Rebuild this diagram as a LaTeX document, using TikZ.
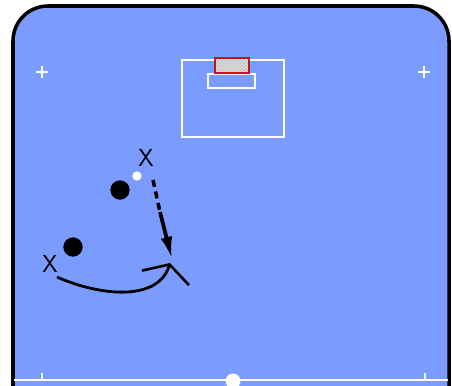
\documentclass[tikz,border=0pt]{standalone}
\usetikzlibrary{arrows.meta,patterns}
\definecolor{pitch}{RGB}{123,155,255}
\definecolor{goalred}{RGB}{196,22,22}
\begin{document}
\begin{tikzpicture}[x=0.03cm,y=-0.03cm,
  fieldline/.style={white, line width=2.3pt},
  player/.style={circle, fill=black, inner sep=0pt, minimum size=0.58cm},
  ball/.style={circle, fill=white, inner sep=0pt, minimum size=0.28cm},
  marker/.style={font=\sffamily\fontsize{21}{21}\selectfont, inner sep=0pt}]
  \useasboundingbox (0,0) rectangle (452,385);
  \clip (0,0) rectangle (452,385);

  % pitch
  \draw[fill=pitch, line width=3pt, rounded corners=1.05cm] (13,6) rectangle (449,440);
  \draw[fieldline] (14,380) -- (448,380);
  \draw[fieldline] (42,373) -- (42,380);
  \draw[fieldline] (425,373) -- (425,380);
  \fill[white] (233,381) circle (7.5);
  \draw[white, line width=1.8pt] (36,72) -- (48,72) (42,66) -- (42,78);
  \draw[white, line width=1.8pt] (418,72) -- (430,72) (424,66) -- (424,78);

  % penalty area, goal area and goal
  \draw[fieldline] (182,60) rectangle (284,137);
  \draw[fieldline] (208,74) rectangle (255,88);
  \draw[draw=goalred, line width=2.2pt, preaction={fill=gray!30}, pattern=crosshatch dots, pattern color=gray!70] (215,58) rectangle (249,73);

  % players
  \node[marker] (X1) at (146,158) {X};
  \node[ball] (B) at (137,176) {};
  \node[player] (P1) at (120,190) {};
  \node[player] (P2) at (73,247) {};
  \node[marker] (X2) at (50,264) {X};

  % runs
  \coordinate (R1) at (153,180);
  \coordinate (R2) at (160,212);
  \coordinate (R3) at (172,259);
  \draw[line width=3pt, dash pattern=on 6pt off 4pt] (R1) -- (R2);
  \draw[line width=3.2pt, -{Latex[length=19pt,width=10pt]}] (R2) -- (R3);

  \coordinate (S1) at (57,277);
  \coordinate (S2) at (170,263);
  \draw[line width=2.4pt, -{Straight Barb[length=12pt,width=42pt,line width=2.2pt]}] (S1) .. controls (100,296) and (158,302) .. (S2);
\end{tikzpicture}
\end{document}
